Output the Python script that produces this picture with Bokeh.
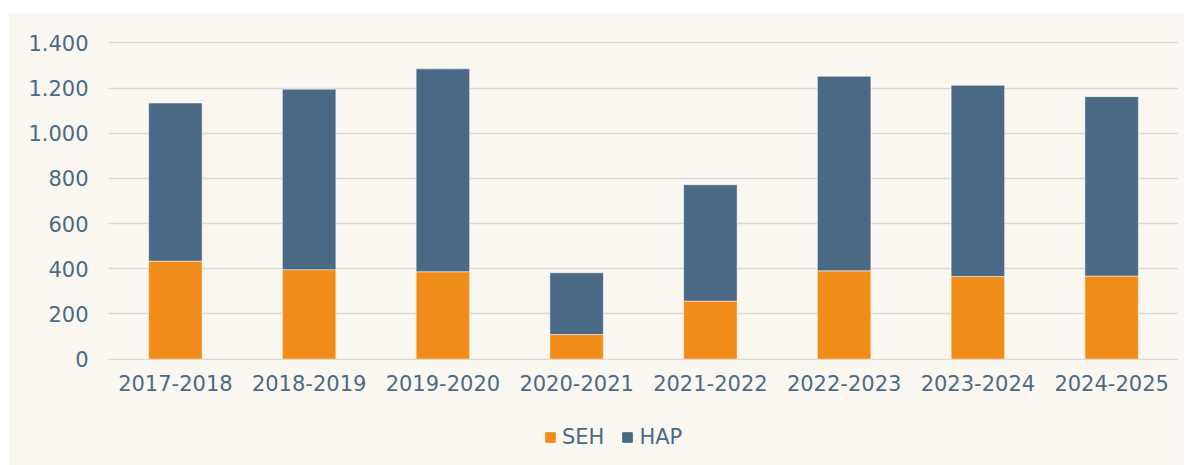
from bokeh.plotting import figure
from bokeh.layouts import column
from bokeh.models import ColumnDataSource, FactorRange, Range1d, Legend, LegendItem, FixedTicker, CustomJSTickFormatter
from bokeh.embed import file_html
from bokeh.resources import INLINE

years = ["2017-2018", "2018-2019", "2019-2020", "2020-2021",
         "2021-2022", "2022-2023", "2023-2024", "2024-2025"]
seh = [434, 396, 387, 109, 257, 391, 366, 368]
hap = [700, 799, 898, 273, 515, 861, 846, 794]
y_ticks = [0, 200, 400, 600, 800, 1000, 1200, 1400]

SEH_COLOR = "#F08C18"
HAP_COLOR = "#4A6985"
TEXT_COLOR = "#4B6A86"
BG = "#FAF7F1"
FONT = "DejaVu Sans"

source = ColumnDataSource(dict(years=years, SEH=seh, HAP=hap))
x_range = FactorRange(*years, range_padding=0)

# main chart
p = figure(x_range=x_range, y_range=Range1d(-6, 1415),
           frame_width=1070, frame_height=321,
           output_backend="svg", toolbar_location=None,
           min_border_left=99, min_border_right=6,
           min_border_top=26, min_border_bottom=45)

p.vbar_stack(["SEH", "HAP"], x="years", width=0.4,
             color=[SEH_COLOR, HAP_COLOR], source=source,
             line_color="#ffffff", line_alpha=0.5, line_width=1)

p.background_fill_color = None
p.border_fill_color = BG
p.outline_line_color = None

p.xgrid.grid_line_color = None
p.ygrid.grid_line_color = "#d9d9d9"
p.ygrid.grid_line_width = 1.5

p.yaxis.ticker = FixedTicker(ticks=y_ticks)
p.yaxis.formatter = CustomJSTickFormatter(code="""
    return tick.toString().replace(/\\B(?=(\\d{3})+(?!\\d))/g, '.');
""")

for ax in (p.xaxis[0], p.yaxis[0]):
    ax.axis_line_color = None
    ax.major_tick_line_color = None
    ax.minor_tick_line_color = None
    ax.major_label_text_color = TEXT_COLOR
    ax.major_label_text_font = FONT
    ax.major_label_text_font_size = "21px"
    ax.major_tick_in = 0
    ax.major_tick_out = 0
p.xaxis.major_label_standoff = 14
p.yaxis.major_label_standoff = 20

# legend strip below the chart
lf = figure(x_range=x_range, y_range=Range1d(0, 1),
            frame_width=1070, frame_height=60,
            output_backend="svg", toolbar_location=None,
            x_axis_location=None, y_axis_location=None,
            min_border_left=99, min_border_right=6,
            min_border_top=0, min_border_bottom=0)
lf.background_fill_color = None
lf.border_fill_color = BG
lf.outline_line_color = None
lf.grid.grid_line_color = None

leg_r = lf.vbar_stack(["SEH", "HAP"], x="years", width=0.4,
                      color=[SEH_COLOR, HAP_COLOR], source=source)
for r in leg_r:
    r.visible = False

legend = Legend(items=[LegendItem(label="SEH", renderers=[leg_r[0]]),
                       LegendItem(label="HAP", renderers=[leg_r[1]])],
                orientation="horizontal",
                location=(436, 16),
                padding=0, margin=0,
                glyph_width=12, glyph_height=12,
                label_standoff=6, spacing=17,
                label_text_font=FONT, label_text_font_size="21px",
                label_text_color=TEXT_COLOR,
                inactive_fill_alpha=0,
                background_fill_alpha=0, border_line_alpha=0)
lf.add_layout(legend, "center")

layout = column(p, lf, spacing=0)
layout.margin = (13, 0, 0, 9)
layout.styles = {"background-color": BG}

open("out.html", "w").write(file_html(layout, INLINE))
